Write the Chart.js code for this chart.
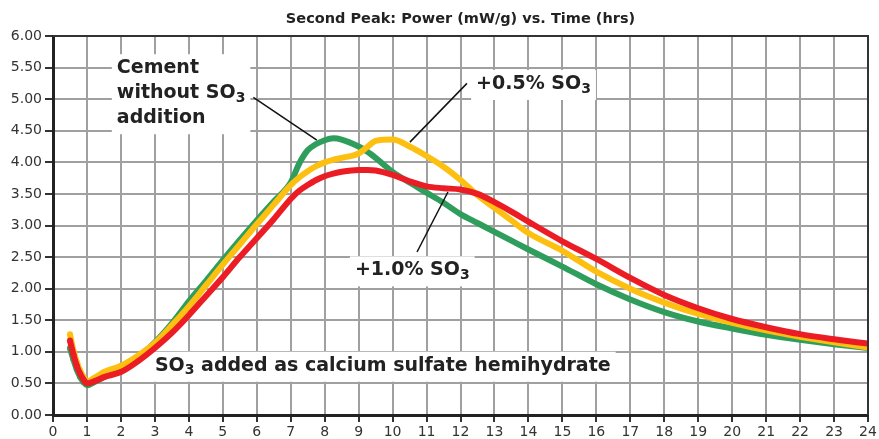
<!DOCTYPE html>
<html>
<head>
<meta charset="utf-8">
<script src="https://cdn.jsdelivr.net/npm/chart.js@4"></script>
<style>
  html, body { margin: 0; padding: 0; background: #fff; }
  #wrap { width: 879px; height: 439px; }
</style>
</head>
<body>
<div id="wrap"><canvas id="heatChart" width="879" height="439"></canvas></div>
<script>
// Time axis samples (hours) shared by all three curves
const hours = [0.5, 0.6, 0.7, 0.8, 0.9, 1.0, 1.25, 1.5, 2, 2.5, 3, 3.5, 4, 4.5, 5, 5.5, 6, 6.5, 7, 7.25, 7.5, 7.75, 8, 8.25, 8.5, 9, 9.25, 9.5, 10, 10.5, 11, 11.5, 12, 12.5, 13, 13.5, 14, 15, 16, 17, 18, 19, 20, 21, 22, 23, 24];

// Power (mW/g)
const powerNoSO3 = [1.06, 0.88, 0.72, 0.60, 0.52, 0.47, 0.53, 0.60, 0.73, 0.91, 1.15, 1.45, 1.80, 2.12, 2.45, 2.77, 3.08, 3.38, 3.68, 3.98, 4.19, 4.29, 4.35, 4.38, 4.36, 4.25, 4.17, 4.07, 3.85, 3.68, 3.52, 3.36, 3.18, 3.04, 2.90, 2.76, 2.62, 2.35, 2.07, 1.83, 1.63, 1.48, 1.37, 1.27, 1.19, 1.12, 1.06];
const powerHalf   = [1.28, 1.02, 0.84, 0.70, 0.60, 0.53, 0.60, 0.68, 0.78, 0.94, 1.14, 1.42, 1.72, 2.05, 2.38, 2.70, 3.02, 3.33, 3.64, 3.76, 3.86, 3.94, 4.00, 4.04, 4.07, 4.14, 4.24, 4.34, 4.36, 4.25, 4.10, 3.93, 3.72, 3.48, 3.28, 3.08, 2.88, 2.60, 2.27, 2.00, 1.78, 1.60, 1.46, 1.34, 1.24, 1.15, 1.07];
const powerOne    = [1.18, 0.96, 0.78, 0.65, 0.56, 0.50, 0.54, 0.60, 0.68, 0.85, 1.06, 1.30, 1.58, 1.88, 2.18, 2.50, 2.80, 3.10, 3.42, 3.55, 3.64, 3.72, 3.78, 3.82, 3.85, 3.88, 3.88, 3.87, 3.80, 3.70, 3.62, 3.59, 3.57, 3.50, 3.37, 3.22, 3.06, 2.75, 2.47, 2.17, 1.90, 1.69, 1.52, 1.39, 1.28, 1.20, 1.13];

const FONT = '"DejaVu Sans", Verdana, sans-serif';
const TITLE = 'Second Peak: Power (mW/g) vs. Time (hrs)';

// Text labels placed in data coordinates; parts with sub:true are subscripts
const labels = [
  { x: 1.88, y: 5.49, lines: [[{ t: 'Cement' }], [{ t: 'without SO' }, { t: '3', sub: true }], [{ t: 'addition' }]],
    leader: [5.9, 5.03, 7.77, 4.35] },
  { x: 12.46, y: 5.24, lines: [[{ t: '+0.5% SO' }, { t: '3', sub: true }]],
    leader: [12.19, 5.25, 10.51, 4.32] },
  { x: 8.89, y: 2.29, lines: [[{ t: '+1.0% SO' }, { t: '3', sub: true }]],
    leader: [10.72, 2.58, 11.63, 3.53] },
  { x: 3.0, y: 0.78, lines: [[{ t: 'SO' }, { t: '3', sub: true }, { t: ' added as calcium sulfate hemihydrate' }]] }
];

const toPoints = (ys) => hours.map((h, i) => ({ x: h, y: ys[i] }));

function lineWidthOf(ctx, parts, size) {
  let w = 0;
  parts.forEach(p => {
    ctx.font = 'bold ' + (p.sub ? Math.round(size * 0.72) : size) + 'px ' + FONT;
    w += ctx.measureText(p.t).width;
  });
  return w;
}

function drawParts(ctx, parts, x, y, size) {
  parts.forEach(p => {
    const s = p.sub ? Math.round(size * 0.72) : size;
    ctx.font = 'bold ' + s + 'px ' + FONT;
    ctx.fillText(p.t, x, p.sub ? y + 5 : y);
    x += ctx.measureText(p.t).width;
  });
}

const annotate = {
  id: 'annotate',
  beforeDatasetsDraw(chart) {
    const { ctx, scales: { x, y } } = chart;
    const size = 19, lh = 25;
    ctx.save();
    ctx.fillStyle = '#fff';
    labels.forEach(l => {
      const px = x.getPixelForValue(l.x), py = y.getPixelForValue(l.y);
      const w = Math.max(...l.lines.map(p => lineWidthOf(ctx, p, size)));
      ctx.fillRect(px - 5, py - 14, w + 10, lh * (l.lines.length - 1) + 30);
    });
    ctx.restore();
  },
  afterDatasetsDraw(chart) {
    const { ctx, chartArea: a, scales: { x, y } } = chart;
    const size = 19, lh = 25;
    ctx.save();
    // top and right frame
    ctx.strokeStyle = '#333';
    ctx.lineWidth = 2;
    ctx.beginPath();
    ctx.moveTo(a.left, a.top);
    ctx.lineTo(a.right, a.top);
    ctx.lineTo(a.right, a.bottom);
    ctx.stroke();

    // title
    ctx.fillStyle = '#222';
    ctx.font = 'bold 14.5px ' + FONT;
    ctx.textAlign = 'center';
    ctx.textBaseline = 'middle';
    ctx.fillText(TITLE, (a.left + a.right) / 2, 19);

    ctx.textAlign = 'left';
    labels.forEach(l => {
      const px = x.getPixelForValue(l.x), py = y.getPixelForValue(l.y);
      l.lines.forEach((parts, i) => drawParts(ctx, parts, px, py + i * lh, size));
      if (l.leader) {
        ctx.strokeStyle = '#111';
        ctx.lineWidth = 1.5;
        ctx.beginPath();
        ctx.moveTo(x.getPixelForValue(l.leader[0]), y.getPixelForValue(l.leader[1]));
        ctx.lineTo(x.getPixelForValue(l.leader[2]), y.getPixelForValue(l.leader[3]));
        ctx.stroke();
      }
    });
    ctx.restore();
  }
};

const series = (label, ys, color) => ({
  label,
  data: toPoints(ys),
  borderColor: color,
  backgroundColor: color,
  borderWidth: 6,
  pointRadius: c => (c.raw && c.raw.x < 1) ? 3 : 0,
  pointBorderWidth: 0,
  fill: false,
  cubicInterpolationMode: 'monotone'
});

new Chart(document.getElementById('heatChart'), {
  type: 'line',
  data: {
    datasets: [
      series('+1.0% SO3', powerOne, '#ec1c24'),
      series('+0.5% SO3', powerHalf, '#fdc010'),
      series('Cement without SO3 addition', powerNoSO3, '#2f9e5c')
    ]
  },
  options: {
    responsive: false,
    animation: false,
    layout: { padding: { top: 36, right: 11, left: 0, bottom: 0 } },
    plugins: { legend: { display: false }, title: { display: false }, tooltip: { enabled: false } },
    scales: {
      x: {
        type: 'linear',
        min: 0,
        max: 24,
        ticks: { stepSize: 1, autoSkip: false, maxRotation: 0, color: '#333', padding: 2, font: { family: FONT, size: 14 } },
        grid: { color: '#a0a0a0', lineWidth: 2, tickLength: 7, tickColor: '#333', tickWidth: 2 },
        border: { color: '#222', width: 3 },
        afterFit(s) { s.height = 24; }
      },
      y: {
        min: 0,
        max: 6,
        ticks: { stepSize: 0.5, color: '#333', padding: 3, font: { family: FONT, size: 14 }, callback: v => v.toFixed(2) },
        grid: { color: '#a0a0a0', lineWidth: 2, tickLength: 8, tickColor: '#333', tickWidth: 2 },
        border: { color: '#222', width: 3 },
        afterFit(s) { s.width = 53; }
      }
    }
  },
  plugins: [annotate]
});
</script>
</body>
</html>
